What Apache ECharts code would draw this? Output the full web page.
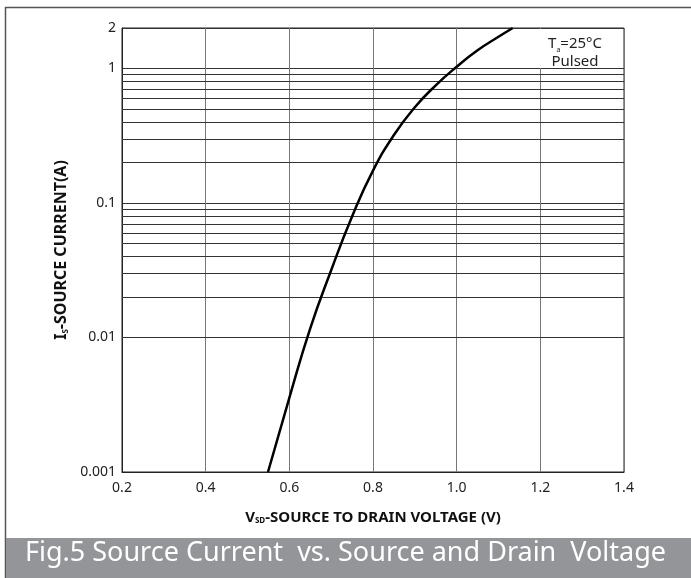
<!DOCTYPE html>
<html>
<head>
<meta charset="utf-8">
<script src="https://cdn.jsdelivr.net/npm/echarts@6/dist/echarts.min.js"></script>
<style>
  html, body { margin: 0; padding: 0; background: #fff; }
  #chart { width: 691px; height: 578px; }
</style>
</head>
<body>
<div id="chart"></div>
<script>
// curve: source-drain voltage (V) vs source current (A)
const voltage = [0.549, 0.6, 0.65, 0.7, 0.75, 0.8, 0.85, 0.9, 0.95, 1.0, 1.05, 1.1, 1.134];
const current = [0.001, 0.00356, 0.0117, 0.0316, 0.0794, 0.174, 0.32, 0.515, 0.75, 1.03, 1.365, 1.72, 2.0];

// minor log gridlines between decades
const minorLines = [0.002, 0.003, 0.004, 0.005, 0.006, 0.007, 0.008, 0.009,
  0.02, 0.03, 0.04, 0.05, 0.06, 0.07, 0.08, 0.09,
  0.2, 0.3, 0.4, 0.5, 0.6, 0.7, 0.8, 0.9];

const caption = 'Fig.5 Source Current  vs. Source and Drain  Voltage';

const chart = echarts.init(document.getElementById('chart'), null, { renderer: 'canvas' });

chart.setOption({
  animation: false,
  textStyle: { fontFamily: 'Noto Sans' },
  grid: {
    left: 122, right: 67, top: 28, bottom: 106,
    show: true, borderColor: '#222', borderWidth: 1
  },
  xAxis: {
    type: 'value',
    min: 0.2, max: 1.4, interval: 0.2,
    axisLine: { show: true, lineStyle: { color: '#222' } },
    axisTick: { show: false },
    axisLabel: {
      color: '#222', fontSize: 14, margin: 9,
      formatter: v => v.toFixed(1)
    },
    splitLine: { show: true, lineStyle: { color: '#777', width: 1 } },
    name: '{b|V}{sub|SD}{b|-SOURCE TO DRAIN VOLTAGE (V)}',
    nameLocation: 'middle',
    nameGap: 38,
    nameTextStyle: {
      rich: {
        b: { fontSize: 15, fontWeight: 'bold', color: '#111', fontFamily: 'Noto Sans' },
        sub: { fontSize: 8, fontWeight: 'bold', color: '#111', fontFamily: 'Noto Sans', verticalAlign: 'bottom', padding: [7, 0, 0, 0] }
      }
    }
  },
  yAxis: {
    type: 'log',
    logBase: 10,
    min: 0.001, max: 2,
    axisLine: { show: true, lineStyle: { color: '#222' } },
    axisTick: { show: false },
    axisLabel: {
      color: '#222', fontSize: 14, margin: 6,
      formatter: v => String(v)
    },
    splitLine: { show: true, lineStyle: { color: '#333', width: 1 } },
    name: '{b|I}{sub|S}{b|-SOURCE CURRENT(A)}',
    nameLocation: 'middle',
    nameGap: 36,
    nameTextStyle: {
      rich: {
        b: { fontSize: 16, fontWeight: 'bold', color: '#111', fontFamily: 'Noto Sans' },
        sub: { fontSize: 8, fontWeight: 'bold', color: '#111', fontFamily: 'Noto Sans', verticalAlign: 'bottom', padding: [8, 0, 0, 0] }
      }
    }
  },
  series: [
    {
      type: 'line',
      data: voltage.map((v, i) => [v, current[i]]),
      smooth: true,
      showSymbol: false,
      lineStyle: { color: '#000', width: 2.5 },
      z: 5,
      markLine: {
        silent: true,
        symbol: 'none',
        label: { show: false },
        lineStyle: { color: '#333', width: 1, type: 'solid' },
        data: minorLines.map(y => ({ yAxis: y }))
      }
    }
  ],
  graphic: [
    // outer frame (left and top edges)
    { type: 'line', shape: { x1: 5.5, y1: 7, x2: 5.5, y2: 578 }, style: { stroke: '#555', lineWidth: 1.5 } },
    { type: 'line', shape: { x1: 5, y1: 7.5, x2: 691, y2: 7.5 }, style: { stroke: '#555', lineWidth: 1.5 } },
    // condition note box
    { type: 'rect', shape: { x: 529, y: 29, width: 92, height: 39 }, style: { fill: '#fff' }, z: 10 },
    {
      type: 'text', x: 575, y: 35, z: 11,
      style: {
        text: '{t|T}{s|a}{t|=25°C}\n{t|Pulsed}',
        align: 'center',
        rich: {
          t: { fontSize: 15, fill: '#222', fontFamily: 'Noto Sans', lineHeight: 18, align: 'center' },
          s: { fontSize: 7, fill: '#222', fontFamily: 'Noto Sans', verticalAlign: 'bottom', padding: [7, 0, 0, 0] }
        }
      }
    },
    // caption band
    { type: 'rect', shape: { x: 6, y: 538, width: 685, height: 40 }, style: { fill: '#939598' } },
    {
      type: 'text', left: 'center', top: 540,
      style: { text: caption, fill: '#fff', fontSize: 27, fontFamily: 'Noto Sans' }
    }
  ]
});
</script>
</body>
</html>
